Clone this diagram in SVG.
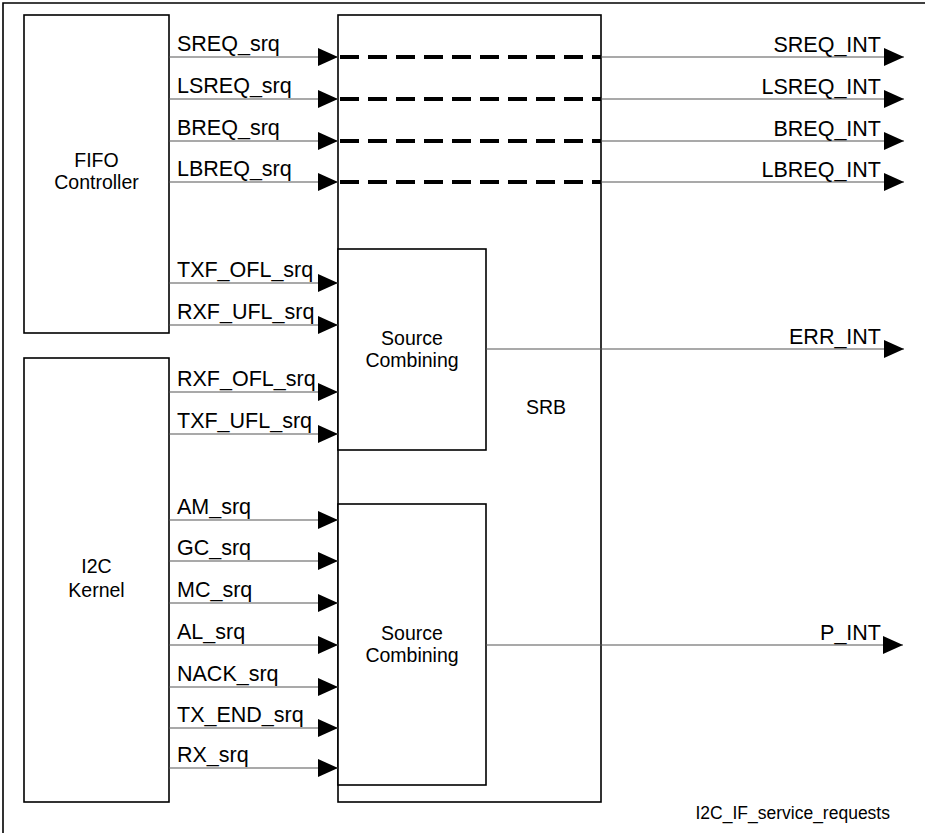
<svg xmlns="http://www.w3.org/2000/svg" width="925" height="833" viewBox="0 0 925 833">
<defs>
<marker id="ah" markerUnits="userSpaceOnUse" markerWidth="20" markerHeight="18" refX="20" refY="9" orient="auto">
<path d="M0,0 L20,9 L0,18 Z" fill="#000"/>
</marker>
<style>
.box{fill:#fff;stroke:#000;stroke-width:1.6}
.sig{stroke:#555;stroke-width:1.1;fill:none;marker-end:url(#ah)}
.dash{stroke:#000;stroke-width:4;stroke-dasharray:19 9;fill:none}
.lbl{font-family:"Liberation Sans",Arial,sans-serif;font-size:21.5px;fill:#000}
.nl{font-family:"Liberation Sans",Arial,sans-serif;font-size:19.5px;fill:#000;text-anchor:middle}
.r{text-anchor:end}
</style>
</defs>
<rect width="925" height="833" fill="#fff"/>
<path d="M3,833 V3 H925" fill="none" stroke="#000" stroke-width="1.6"/>

<g id="srb">
<rect class="box" x="338" y="15" width="263" height="787"/>
<text class="nl" x="546" y="414">SRB</text>
</g>
<g id="fifo">
<rect class="box" x="24" y="15" width="145" height="318"/>
<text class="nl" x="96.5" y="167">FIFO</text>
<text class="nl" x="96.5" y="189">Controller</text>
</g>
<g id="kernel">
<rect class="box" x="24" y="358" width="145" height="444"/>
<text class="nl" x="96.5" y="573">I2C</text>
<text class="nl" x="96.5" y="597">Kernel</text>
</g>
<g id="sc1">
<rect class="box" x="338" y="249" width="148" height="201"/>
<text class="nl" x="412" y="345">Source</text>
<text class="nl" x="412" y="367">Combining</text>
</g>
<g id="sc2">
<rect class="box" x="338" y="504" width="148" height="281"/>
<text class="nl" x="412" y="640">Source</text>
<text class="nl" x="412" y="662">Combining</text>
</g>

<g id="connectors">
<path class="sig" d="M169,57 H338"/>
<path class="sig" d="M169,99 H338"/>
<path class="sig" d="M169,141 H338"/>
<path class="sig" d="M169,182 H338"/>
<path class="sig" d="M169,283 H338"/>
<path class="sig" d="M169,325 H338"/>
<path class="sig" d="M169,392 H338"/>
<path class="sig" d="M169,434 H338"/>
<path class="sig" d="M169,520 H338"/>
<path class="sig" d="M169,561 H338"/>
<path class="sig" d="M169,603 H338"/>
<path class="sig" d="M169,645 H338"/>
<path class="sig" d="M169,687 H338"/>
<path class="sig" d="M169,728 H338"/>
<path class="sig" d="M169,768 H338"/>

<path class="dash" d="M340,57 H601"/>
<path class="dash" d="M340,99 H601"/>
<path class="dash" d="M340,141 H601"/>
<path class="dash" d="M340,182 H601"/>

<path class="sig" d="M601,57 H904"/>
<path class="sig" d="M601,99 H904"/>
<path class="sig" d="M601,141 H904"/>
<path class="sig" d="M601,182 H904"/>
<path class="sig" d="M486,349 H904"/>
<path class="sig" d="M486,645 H903"/>
</g>

<g id="labels">
<text class="lbl" x="177" y="51">SREQ_srq</text>
<text class="lbl" x="177" y="93">LSREQ_srq</text>
<text class="lbl" x="177" y="135">BREQ_srq</text>
<text class="lbl" x="177" y="176">LBREQ_srq</text>
<text class="lbl" x="177" y="277">TXF_OFL_srq</text>
<text class="lbl" x="177" y="319">RXF_UFL_srq</text>
<text class="lbl" x="177" y="386">RXF_OFL_srq</text>
<text class="lbl" x="177" y="428">TXF_UFL_srq</text>
<text class="lbl" x="177" y="514">AM_srq</text>
<text class="lbl" x="177" y="555">GC_srq</text>
<text class="lbl" x="177" y="597">MC_srq</text>
<text class="lbl" x="177" y="639">AL_srq</text>
<text class="lbl" x="177" y="681">NACK_srq</text>
<text class="lbl" x="177" y="722">TX_END_srq</text>
<text class="lbl" x="177" y="762">RX_srq</text>

<text class="lbl r" x="881" y="52">SREQ_INT</text>
<text class="lbl r" x="881" y="94">LSREQ_INT</text>
<text class="lbl r" x="881" y="136">BREQ_INT</text>
<text class="lbl r" x="881" y="177">LBREQ_INT</text>
<text class="lbl r" x="881" y="344">ERR_INT</text>
<text class="lbl r" x="881" y="640">P_INT</text>
<text x="890" y="819" font-family="Liberation Sans, Arial, sans-serif" font-size="17.5" text-anchor="end">I2C_IF_service_requests</text>
</g>
</svg>
